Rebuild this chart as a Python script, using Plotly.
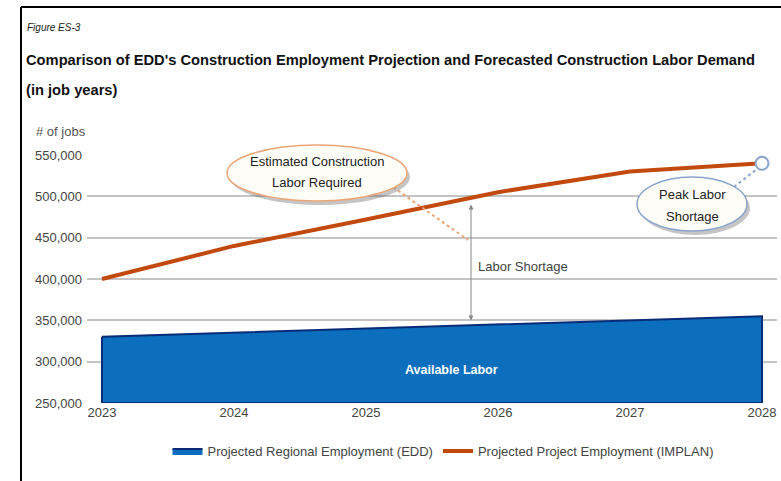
import plotly.graph_objects as go

years = [2023, 2024, 2025, 2026, 2027, 2028]
edd_employment = [330000, 335000, 340000, 345000, 350000, 355000]
implan_employment = [400000, 440000, 472000, 505000, 530000, 540000]
y_ticks = [250000, 300000, 350000, 400000, 450000, 500000, 550000]
y_base = 250000

W, H = 781, 481
L, R, T, B = 87, 777, 155, 403


def PX(x):
    return (x - L) / (R - L)


def PY(y):
    return (B - y) / (B - T)


FONT = "Liberation Sans, Arial, sans-serif"

fig = go.Figure()

fig.add_trace(go.Scatter(
    x=years + [years[-1], years[0], years[0]],
    y=edd_employment + [y_base, y_base, edd_employment[0]],
    fill="toself", fillcolor="#0b6fbd",
    line=dict(color="#0a2c78", width=2),
    mode="lines", name="Projected Regional Employment (EDD)",
    hoverinfo="skip",
))
fig.add_trace(go.Scatter(
    x=years, y=implan_employment, mode="lines",
    line=dict(color="#c24a0e", width=4),
    name="Projected Project Employment (IMPLAN)",
))
fig.add_trace(go.Scatter(
    x=[years[-1]], y=[implan_employment[-1]], mode="markers",
    marker=dict(size=13, color="white", line=dict(color="#8aa4cc", width=2)),
    showlegend=False, cliponaxis=False,
))

shapes = []
# frame
shapes.append(dict(type="line", xref="paper", yref="paper", x0=PX(21), y0=PY(7), x1=PX(781), y1=PY(7),
                   line=dict(color="black", width=2)))
shapes.append(dict(type="line", xref="paper", yref="paper", x0=PX(21), y0=PY(7), x1=PX(21), y1=PY(481),
                   line=dict(color="black", width=2)))
# dotted leader lines
shapes.append(dict(type="line", xref="paper", yref="paper", x0=PX(393), y0=PY(187), x1=PX(468), y1=PY(240),
                   line=dict(color="#eba577", width=2, dash="dot")))
shapes.append(dict(type="line", xref="paper", yref="paper", x0=PX(734), y0=PY(187), x1=PX(757), y1=PY(169),
                   line=dict(color="#8aa4cc", width=2, dash="dot")))


def ellipse(cx, cy, w, h, border):
    # shadow
    shapes.append(dict(type="circle", xref="paper", yref="paper",
                       x0=PX(cx - w / 2 + 3), x1=PX(cx + w / 2 + 3),
                       y0=PY(cy - h / 2 + 4), y1=PY(cy + h / 2 + 4),
                       fillcolor="rgba(90,90,90,0.35)", line=dict(width=0)))
    shapes.append(dict(type="circle", xref="paper", yref="paper",
                       x0=PX(cx - w / 2), x1=PX(cx + w / 2),
                       y0=PY(cy - h / 2), y1=PY(cy + h / 2),
                       fillcolor="#fffdf8", line=dict(color=border, width=1.5)))


ellipse(317, 173, 180, 56, "#eba577")
ellipse(692, 204, 110, 54, "#8aa4cc")

annotations = []


def text(x, y, s, size, color="#333", anchor="center", bold=False, italic=False):
    if bold:
        s = "<b>" + s + "</b>"
    if italic:
        s = "<i>" + s + "</i>"
    annotations.append(dict(xref="paper", yref="paper", x=PX(x), y=PY(y), text=s,
                            showarrow=False, xanchor=anchor, yanchor="middle",
                            font=dict(family=FONT, size=size, color=color)))


text(25, 27, "Figure ES-3", 10, "#222", "left", italic=True)
text(24, 60, "Comparison of EDD's Construction Employment Projection and Forecasted Construction Labor Demand",
     14.7, "#111", "left", bold=True)
text(24, 90, "(in job years)", 14.7, "#111", "left", bold=True)
text(34, 131, "# of jobs", 13, "#555", "left")
text(317, 161, "Estimated Construction", 13, "#222")
text(317, 182, "Labor Required", 13, "#222")
text(692, 194, "Peak Labor", 13, "#222")
text(692, 216, "Shortage", 13, "#222")
text(476, 266, "Labor Shortage", 13, "#444", "left")
text(451, 370, "Available Labor", 12.5, "white", bold=True)

annotations.append(dict(
    x=years[0] + (471 - 102) / 132, y=490000,
    ax=years[0] + (471 - 102) / 132, ay=edd_employment[3] + 3000,
    xref="x", yref="y", axref="x", ayref="y", text="", showarrow=True,
    arrowhead=2, startarrowhead=2, arrowside="end+start", arrowsize=1, arrowwidth=1,
    arrowcolor="#888",
))

fig.update_layout(
    width=W, height=H,
    margin=dict(l=L, r=W - R, t=T, b=H - B),
    paper_bgcolor="white", plot_bgcolor="white",
    font=dict(family=FONT, size=12, color="#444"),
    shapes=shapes, annotations=annotations,
    showlegend=True,
    legend=dict(orientation="h", x=PX(443), y=PY(451), xanchor="center", yanchor="middle",
                font=dict(family=FONT, size=13, color="#444"), itemwidth=30, tracegroupgap=0),
    xaxis=dict(range=[years[0] - 15 / 132, years[-1] + 15 / 132], tickvals=years,
               ticktext=[str(y) for y in years], showgrid=False, zeroline=False,
               showline=False, ticks="", tickfont=dict(size=13, color="#444")),
    yaxis=dict(range=[y_ticks[0], y_ticks[-1]], tickvals=y_ticks, tickformat=",",
               showgrid=True, gridcolor="#c4c4c4", gridwidth=1.5, zeroline=False,
               showline=False, ticks="", ticklabelstandoff=4,
               tickfont=dict(size=13, color="#444")),
)

fig.write_html("out.html", config={"displayModeBar": False},
               post_script="document.body.style.margin='0';document.body.style.padding='0';")
